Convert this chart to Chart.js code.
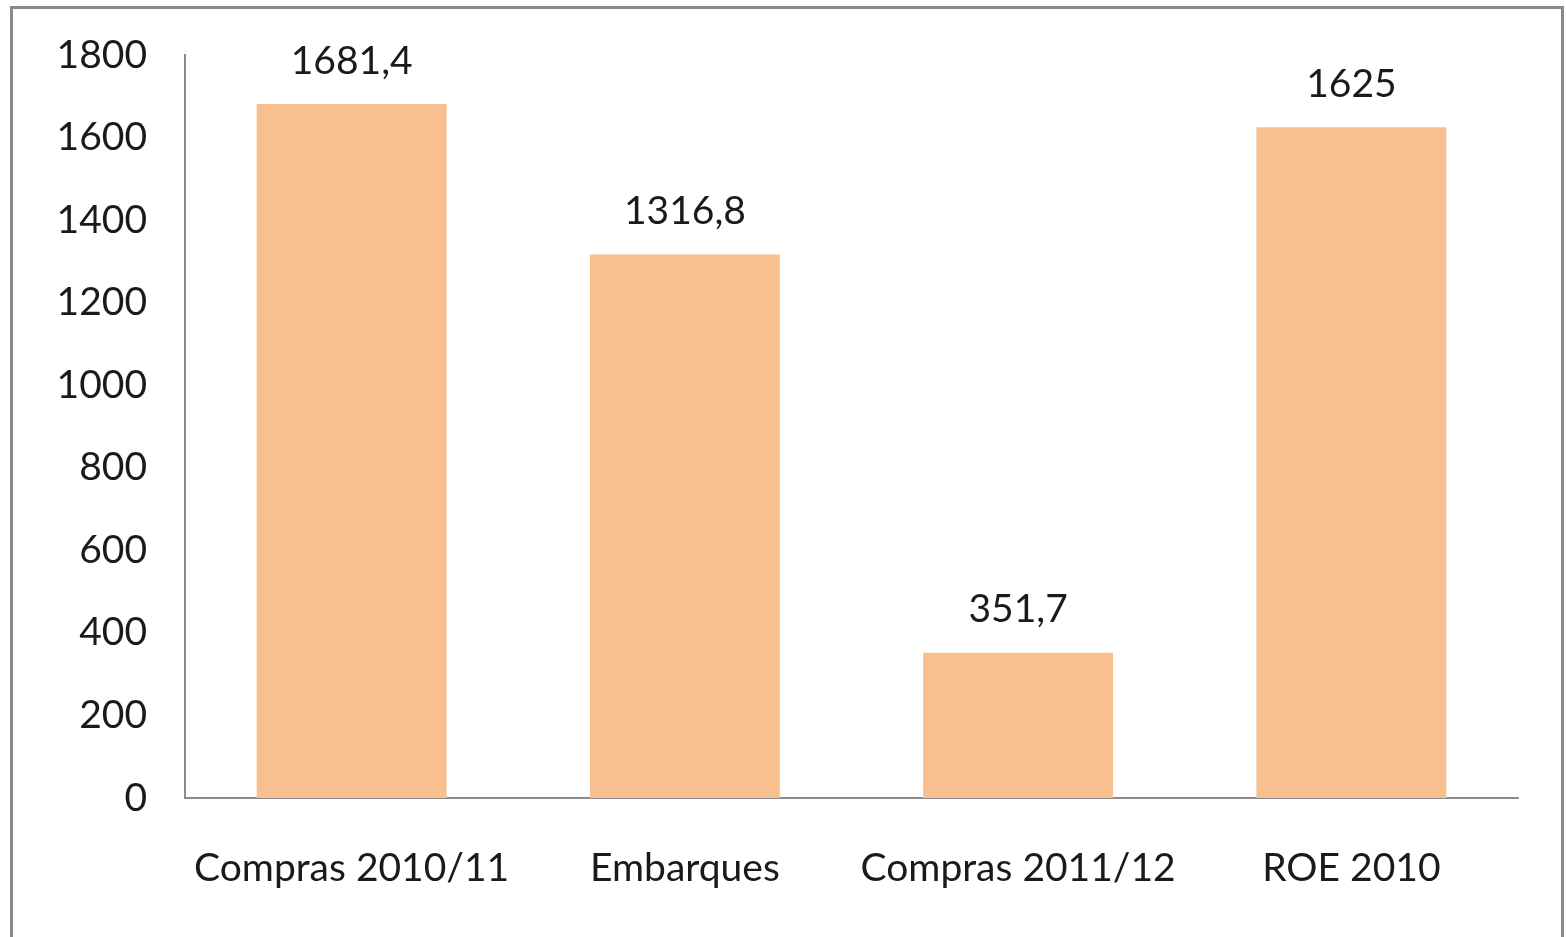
<!DOCTYPE html>
<html>
<head>
<meta charset="utf-8">
<script src="https://cdn.jsdelivr.net/npm/chart.js@4"></script>
<style>
    html, body { margin: 0; padding: 0; background: #fff; overflow: hidden; }
    #frame {
        position: absolute; left: 10px; top: 6px;
        width: 1548px; height: 980px;
        border: 3px solid #8a8a8a;
    }
    #wrap { position: absolute; left: 0; top: 0; width: 1566px; height: 937px; }
</style>
</head>
<body>
<div id="frame"></div>
<div id="wrap"><canvas id="chart"></canvas></div>
<script>
const categories = ['Compras 2010/11', 'Embarques', 'Compras 2011/12', 'ROE 2010'];
const values = [1681.4, 1316.8, 351.7, 1625];
const yTicks = [0, 200, 400, 600, 800, 1000, 1200, 1400, 1600, 1800];

const barColor = '#F9C08F';
const axisColor = '#8a8a8a';
const textColor = '#1a1a1a';
const fontFamily = 'Lato, "Open Sans", sans-serif';
const fontSize = 39;

// draws the value above each bar (comma as decimal mark)
const valueLabels = {
    id: 'valueLabels',
    afterDatasetsDraw(chart) {
        const ctx = chart.ctx;
        const meta = chart.getDatasetMeta(0);
        ctx.save();
        ctx.font = fontSize + 'px ' + fontFamily;
        ctx.fillStyle = textColor;
        ctx.textAlign = 'center';
        ctx.textBaseline = 'middle';
        meta.data.forEach((bar, i) => {
            const txt = String(values[i]).replace('.', ',');
            ctx.fillText(txt, bar.x, bar.y - 43);
        });
        ctx.restore();
    }
};

const ctx = document.getElementById('chart').getContext('2d');
new Chart(ctx, {
    type: 'bar',
    data: {
        labels: categories,
        datasets: [{
            data: values,
            backgroundColor: barColor,
            borderWidth: 0,
            categoryPercentage: 1,
            barPercentage: 0.57
        }]
    },
    options: {
        responsive: true,
        maintainAspectRatio: false,
        animation: false,
        layout: { padding: { left: 0, right: 48, top: 55, bottom: 0 } },
        plugins: {
            legend: { display: false },
            tooltip: { enabled: false }
        },
        scales: {
            x: {
                grid: { display: false, drawTicks: false },
                border: { display: true, color: axisColor, width: 2 },
                ticks: {
                    color: textColor,
                    font: { family: fontFamily, size: fontSize },
                    padding: 47,
                    maxRotation: 0
                },
                afterFit(scale) {
                    scale.height = 139;
                    scale.paddingLeft = 0;
                    scale.paddingRight = 0;
                }
            },
            y: {
                min: 0,
                max: yTicks[yTicks.length - 1],
                afterBuildTicks(scale) {
                    scale.ticks = yTicks.map(v => ({ value: v }));
                },
                grid: { display: false, drawTicks: false },
                border: { display: true, color: axisColor, width: 2 },
                ticks: {
                    color: textColor,
                    font: { family: fontFamily, size: fontSize },
                    padding: 38,
                    callback: v => String(v)
                },
                afterFit(scale) {
                    scale.width = 185;
                    scale.paddingTop = 0;
                    scale.paddingBottom = 0;
                }
            }
        }
    },
    plugins: [valueLabels]
});
</script>
</body>
</html>
